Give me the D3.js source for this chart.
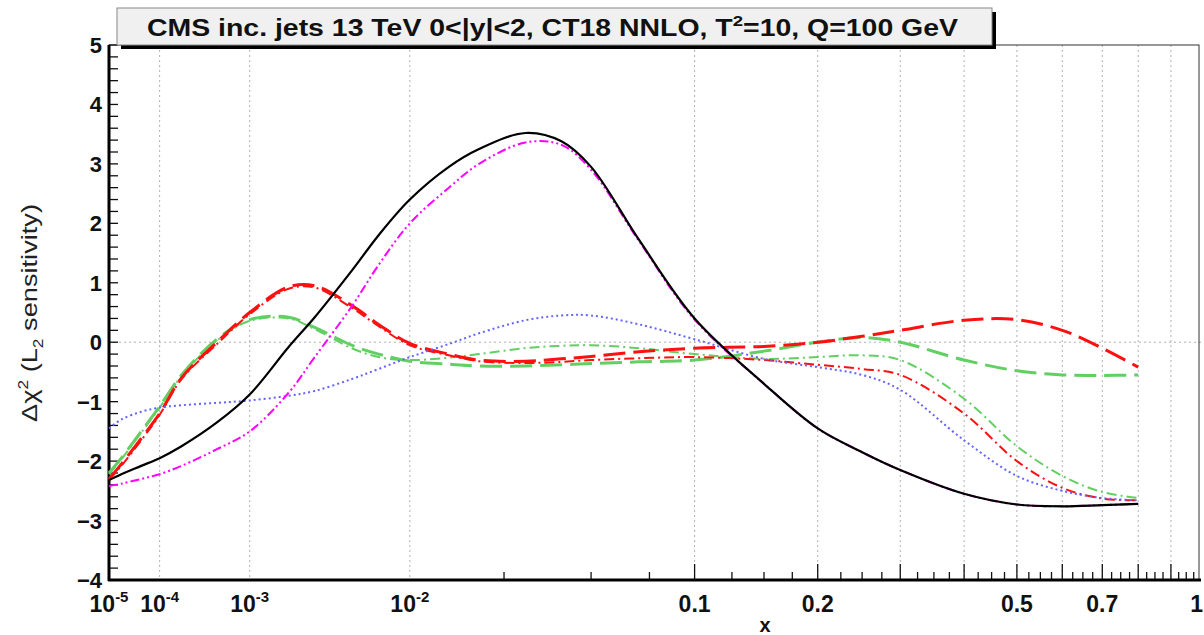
<!DOCTYPE html>
<html><head><meta charset="utf-8">
<script src="https://cdn.jsdelivr.net/npm/d3@7"></script>
<style>body{margin:0;background:#fff}svg{display:block}</style>
</head><body><svg id="c" width="1204" height="635"></svg>
<script>
// ---- data ----
const xs = [1e-5,2e-5,5e-5,1e-4,2e-4,5e-4,1e-3,2e-3,3e-3,5e-3,7e-3,1e-2,0.015,0.02,0.03,0.04,0.05,0.07,0.1,0.15,0.2,0.25,0.3,0.4,0.5,0.6,0.7,0.8];
const blackSolid   = [-2.32,-2.22,-2.08,-1.95,-1.75,-1.35,-0.88,-0.08,0.42,1.2,1.8,2.4,2.95,3.25,3.52,3.38,2.95,1.72,0.4,-0.7,-1.45,-1.85,-2.15,-2.55,-2.73,-2.76,-2.74,-2.72];
const magentaDD    = [-2.42,-2.38,-2.3,-2.22,-2.08,-1.8,-1.5,-0.85,-0.25,0.6,1.3,2.0,2.6,3.0,3.36,3.32,2.9,1.7,0.38,-0.7,-1.45,-1.85,-2.15,-2.55,-2.73,-2.76,-2.74,-2.72];
const redDashed    = [-2.3,-2.05,-1.62,-1.2,-0.6,0.0,0.5,0.93,0.95,0.62,0.3,-0.02,-0.2,-0.3,-0.32,-0.28,-0.24,-0.16,-0.1,-0.07,0.0,0.1,0.2,0.37,0.38,0.2,-0.1,-0.42];
const redDashDot   = [-2.32,-2.08,-1.65,-1.22,-0.62,-0.03,0.47,0.9,0.92,0.58,0.27,-0.05,-0.22,-0.32,-0.35,-0.33,-0.3,-0.27,-0.25,-0.3,-0.38,-0.45,-0.55,-1.2,-2.0,-2.45,-2.63,-2.66];
const greenDashed  = [-2.2,-1.95,-1.5,-1.08,-0.55,0.05,0.38,0.42,0.25,-0.05,-0.2,-0.32,-0.37,-0.4,-0.4,-0.38,-0.36,-0.33,-0.3,-0.15,0.0,0.08,0.0,-0.3,-0.48,-0.55,-0.56,-0.55];
const greenDashDot = [-2.22,-1.97,-1.52,-1.1,-0.57,0.03,0.36,0.4,0.22,-0.1,-0.25,-0.3,-0.26,-0.2,-0.1,-0.06,-0.05,-0.1,-0.2,-0.28,-0.25,-0.22,-0.3,-0.95,-1.75,-2.25,-2.52,-2.62];
const blueDotted   = [-1.45,-1.3,-1.17,-1.1,-1.06,-1.02,-0.98,-0.9,-0.82,-0.62,-0.45,-0.25,-0.03,0.15,0.37,0.45,0.45,0.3,0.05,-0.28,-0.42,-0.55,-0.8,-1.65,-2.25,-2.5,-2.62,-2.66];
const yTickValues = [-4,-3,-2,-1,0,1,2,3,4,5];
const xDecadeTicks = [{v:1e-5,e:"-5"},{v:1e-4,e:"-4"},{v:1e-3,e:"-3"},{v:1e-2,e:"-2"}];
const xLinTicks = [{v:0.1,t:"0.1"},{v:0.2,t:"0.2"},{v:0.5,t:"0.5"},{v:0.7,t:"0.7"},{v:1,t:"1"}];
const titleText = "CMS inc. jets 13 TeV 0<|y|<2, CT18 NNLO, T";
const titleTail = "=10, Q=100 GeV";

// ---- scales ----
const svg = d3.select("#c");
const X0=109, X1=1201, Y0=580, Y1=45;
const x = d3.scalePow().exponent(0.25).domain([1e-5,1]).range([X0,X1]);
const y = d3.scaleLinear().domain([-4,5]).range([Y0,Y1]);
const font = "'Liberation Sans', Arial, sans-serif";

// grid
const gridX = [1e-4,1e-3,1e-2,0.1,0.2,0.3,0.4,0.5,0.6,0.7,0.8,0.9];
svg.append("g").selectAll("line").data(gridX).join("line")
  .attr("x1",d=>x(d)).attr("x2",d=>x(d)).attr("y1",Y1).attr("y2",Y0)
  .attr("stroke","#b0b0b0").attr("stroke-width",1).attr("stroke-dasharray","2,3");
svg.append("line").attr("x1",X0).attr("x2",X1).attr("y1",y(0)).attr("y2",y(0))
  .attr("stroke","#b0b0b0").attr("stroke-width",1).attr("stroke-dasharray","2,3");

// frame
svg.append("rect").attr("x",X0).attr("y",Y1).attr("width",X1-X0-2).attr("height",Y0-Y1)
  .attr("fill","none").attr("stroke","#333").attr("stroke-width",1);

// x minor/major ticks (linear region)
const xMinor = d3.range(1,40).map(i=>i*0.025);
svg.append("g").selectAll("line").data(xMinor).join("line")
  .attr("x1",d=>x(d)).attr("x2",d=>x(d)).attr("y1",Y0)
  .attr("y2",(d,i)=> (i+1)%4===0 ? Y0-16 : Y0-8)
  .attr("stroke","#111").attr("stroke-width",1.3);

// y ticks
const yMinor = d3.range(-4,5.001,0.2);
svg.append("g").selectAll("line").data(yMinor).join("line")
  .attr("x1",X0).attr("x2",X0+9).attr("y1",d=>y(d)).attr("y2",d=>y(d))
  .attr("stroke","#111").attr("stroke-width",1.3);

// axes lines (thick)
svg.append("line").attr("x1",X0).attr("x2",X0).attr("y1",Y1).attr("y2",Y0+1)
  .attr("stroke","#000").attr("stroke-width",3);
svg.append("line").attr("x1",X0-1).attr("x2",X1).attr("y1",Y0).attr("y2",Y0)
  .attr("stroke","#000").attr("stroke-width",3);

// y labels
svg.append("g").selectAll("text").data(yTickValues).join("text")
  .attr("x",X0-7).attr("y",d=>y(d)+8).attr("text-anchor","end")
  .attr("font-family",font).attr("font-weight","bold").attr("font-size",22).attr("fill","#111")
  .text(d=> d<0 ? "\u2212"+Math.abs(d) : d);

// x labels
const xl = svg.append("g").attr("font-family",font).attr("font-weight","bold").attr("fill","#111");
xDecadeTicks.forEach(d=>{
  const t = xl.append("text").attr("x",x(d.v)).attr("y",612).attr("text-anchor","middle").attr("font-size",23);
  t.append("tspan").text("10");
  t.append("tspan").attr("font-size",15).attr("dy",-10).text(d.e);
});
xLinTicks.forEach(d=>{
  const last = d.v===1;
  xl.append("text").attr("x",last ? 1203 : x(d.v)).attr("y",612)
    .attr("text-anchor",last ? "end" : "middle").attr("font-size",23).text(d.t);
});
xl.append("text").attr("x",765).attr("y",632).attr("text-anchor","middle").attr("font-size",20).text("x");

// y axis title
const yt = svg.append("text").attr("transform","translate(37,313) rotate(-90)")
  .attr("text-anchor","middle").attr("font-family",font).attr("font-size",22).attr("fill","#222")
  .attr("textLength",218).attr("lengthAdjust","spacingAndGlyphs");
yt.append("tspan").text("\u0394\u03c7");
yt.append("tspan").attr("font-size",14).attr("dy",-9).text("2");
yt.append("tspan").attr("dy",9).text(" (L");
yt.append("tspan").attr("font-size",14).attr("dy",6).text("2");
yt.append("tspan").attr("dy",-6).text(" sensitivity)");

// curves
const series = [
  {v:greenDashed,  c:"#62cf62", w:3,   dash:"22,8"},
  {v:greenDashDot, c:"#62cf62", w:2,   dash:"10,4,2,4"},
  {v:redDashDot,   c:"#ff1010", w:2,   dash:"10,4,2,4"},
  {v:redDashed,    c:"#ff1010", w:3,   dash:"22,8"},
  {v:blueDotted,   c:"#6464ff", w:2,   dash:"2,3"},
  {v:magentaDD,    c:"#ff00ff", w:2,   dash:"9,3,2,3,2,3"},
  {v:blackSolid,   c:"#000000", w:2.2, dash:null}
];
const line = d3.line().x(d=>x(d[0])).y(d=>y(d[1])).curve(d3.curveCatmullRom.alpha(0.5));
series.forEach(s=>{
  svg.append("path").datum(xs.map((xv,i)=>[xv,s.v[i]]))
    .attr("d",line).attr("fill","none").attr("stroke",s.c).attr("stroke-width",s.w)
    .attr("stroke-dasharray",s.dash);
});

// title box
svg.append("rect").attr("x",121).attr("y",12).attr("width",875).attr("height",37).attr("fill","#000");
svg.append("rect").attr("x",117).attr("y",8).attr("width",875).attr("height",37)
  .attr("fill","#f0f0f0").attr("stroke","#888").attr("stroke-width",1);
const tt = svg.append("text").attr("x",147).attr("y",36)
  .attr("font-family",font).attr("font-weight","bold").attr("font-size",23).attr("fill","#111")
  .attr("textLength",811).attr("lengthAdjust","spacingAndGlyphs");
tt.append("tspan").text(titleText);
tt.append("tspan").attr("font-size",15).attr("dy",-10).text("2");
tt.append("tspan").attr("dy",10).text(titleTail);
</script></body></html>
